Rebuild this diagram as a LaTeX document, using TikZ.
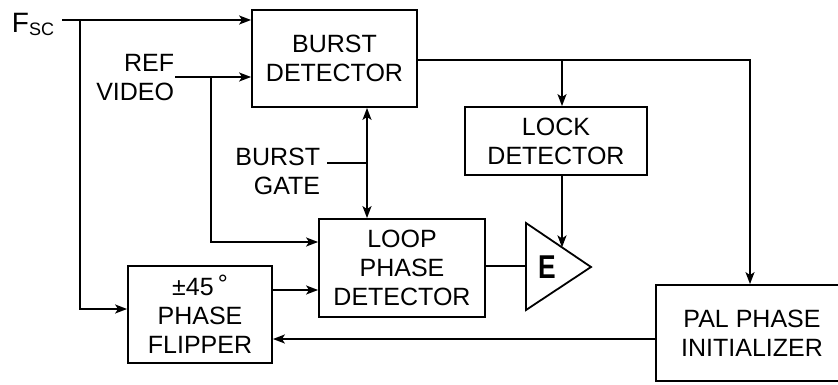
\documentclass[tikz,border=0pt]{standalone}
\usepackage{fontspec}
\setmainfont{Liberation Sans}
\usetikzlibrary{arrows.meta}
\begin{document}
\begin{tikzpicture}[x=1pt,y=-1pt,line width=1.8pt,
  txt/.style={font=\fontsize{25}{29}\selectfont},
  box/.style={draw,rectangle,align=center,inner sep=0pt,txt},
  lbl/.style={align=right,inner sep=0pt,txt},
  tip/.style={-{Stealth[length=12pt,width=9pt,inset=3pt]}},
  dtip/.style={{Stealth[length=12pt,width=9pt,inset=3pt]}-{Stealth[length=12pt,width=9pt,inset=3pt]}}]
\useasboundingbox (0,0) rectangle (838,385);
% boxes
\node[box,minimum width=165pt,minimum height=97pt] (burst) at (334.5,58.5) {BURST\\DETECTOR};
\node[box,minimum width=182pt,minimum height=68pt] (lock) at (556,141) {LOCK\\DETECTOR};
\node[box,minimum width=166pt,minimum height=98pt] (loop) at (402,268) {LOOP\\PHASE\\DETECTOR};
\node[box,minimum width=144pt,minimum height=97pt] (flip) at (200,314.5) {±45\,\raisebox{3pt}{°}\\PHASE\\FLIPPER};
\node[box,minimum width=192pt,minimum height=96pt] (pal) at (752,333) {PAL PHASE\\INITIALIZER};
% amplifier
\coordinate (ta) at (526,223);
\coordinate (tb) at (526,310);
\coordinate (tc) at (591,267);
\coordinate (tin) at (562,247.4);
\draw (ta) -- (tc) -- (tb) -- cycle;
\node[inner sep=0pt,font=\fontsize{33}{33}\selectfont\bfseries,xscale=0.8] (elbl) at (547,267) {E};
% labels
\node[anchor=base west,inner sep=0pt,font=\fontsize{28}{28}\selectfont] (fsc) at (11,33) {F\raisebox{-3pt}{\fontsize{18}{18}\selectfont SC}};
\node[lbl,anchor=base east] (ref) at (175,101) {REF\\VIDEO};
\node[lbl,anchor=base east] (gate) at (321,194) {BURST\\GATE};
% coordinates
\coordinate (fscout) at (62,20);
\coordinate (j1) at (80,20);
\coordinate (refout) at (175,77);
\coordinate (j2) at (211,77);
\coordinate (gateend) at (327,163);
\coordinate (j3) at (367,163);
\coordinate (j4) at (562,60);
% connectors
\draw[tip] (fscout) -- (burst.west |- fscout);
\draw[tip] (j1) |- (flip.west |- 0,309);
\draw[tip] (refout) -- (burst.west |- refout);
\draw[tip] (j2) |- (loop.west |- 0,242);
\draw[dtip] (burst.south -| j3) -- (loop.north -| j3);
\draw (gateend) -- (j3);
\draw[tip] (burst.east |- j4) -| (pal.north -| 750,0);
\draw[tip] (j4) -- (lock.north -| j4);
\draw[tip] (lock.south -| tin) -- (tin);
\draw (loop.east |- 0,266) -- (ta |- 0,266);
\draw[tip] (flip.east |- 0,290) -- (loop.west |- 0,290);
\draw[tip] (pal.west |- 0,339) -- (flip.east |- 0,339);
\end{tikzpicture}
\end{document}
